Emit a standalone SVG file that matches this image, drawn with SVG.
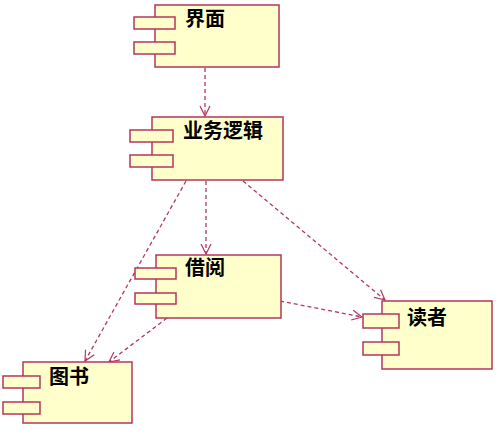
<svg xmlns="http://www.w3.org/2000/svg" width="500" height="435" viewBox="0 0 500 435">
<defs>
<style>
.b{fill:#ffffcc;stroke:#b4365f;stroke-width:1.5}
.t{font-family:"Noto Sans CJK SC","Noto Sans",sans-serif;font-size:20px;font-weight:bold;fill:#000}
.c{fill:none;stroke:#b4365f;stroke-width:1.3;stroke-dasharray:4,3}
</style>
<marker id="a" markerWidth="12" markerHeight="12" refX="11" refY="6" orient="auto" markerUnits="userSpaceOnUse">
<path d="M1,1 L11,6 L1,11" fill="none" stroke="#b4365f" stroke-width="1.2"/>
</marker>
</defs>
<rect width="500" height="435" fill="#fff"/>
<g id="connectors">
<line class="c" x1="205" y1="68" x2="205" y2="116" marker-end="url(#a)"/>
<line class="c" x1="206" y1="181" x2="206" y2="254" marker-end="url(#a)"/>
<line class="c" x1="186" y1="181" x2="85" y2="361" marker-end="url(#a)"/>
<line class="c" x1="243" y1="181" x2="385" y2="300" marker-end="url(#a)"/>
<line class="c" x1="280" y1="301" x2="362" y2="317" marker-end="url(#a)"/>
<line class="c" x1="167" y1="318" x2="109" y2="362" marker-end="url(#a)"/>
</g>
<g id="n1">
<rect class="b" x="155" y="5" width="124" height="62"/>
<rect class="b" x="134" y="17" width="41" height="12"/>
<rect class="b" x="134" y="42" width="41" height="12"/>
<text class="t" x="185" y="26">界面</text>
</g>
<g id="n2">
<rect class="b" x="152" y="117" width="131" height="63"/>
<rect class="b" x="130" y="130" width="43" height="12"/>
<rect class="b" x="130" y="155" width="43" height="12"/>
<text class="t" x="183" y="138">业务逻辑</text>
</g>
<g id="n3">
<rect class="b" x="156" y="255" width="125" height="63"/>
<rect class="b" x="135" y="268" width="41" height="11"/>
<rect class="b" x="135" y="293" width="41" height="11"/>
<text class="t" x="185" y="275">借阅</text>
</g>
<g id="n4">
<rect class="b" x="23" y="362" width="109" height="61"/>
<rect class="b" x="3" y="376" width="37" height="12"/>
<rect class="b" x="3" y="402" width="37" height="12"/>
<text class="t" x="49" y="384">图书</text>
</g>
<g id="n5">
<rect class="b" x="382" y="301" width="110" height="68"/>
<rect class="b" x="363" y="314" width="36" height="14"/>
<rect class="b" x="363" y="342" width="36" height="13"/>
<text class="t" x="407" y="325">读者</text>
</g>
</svg>
